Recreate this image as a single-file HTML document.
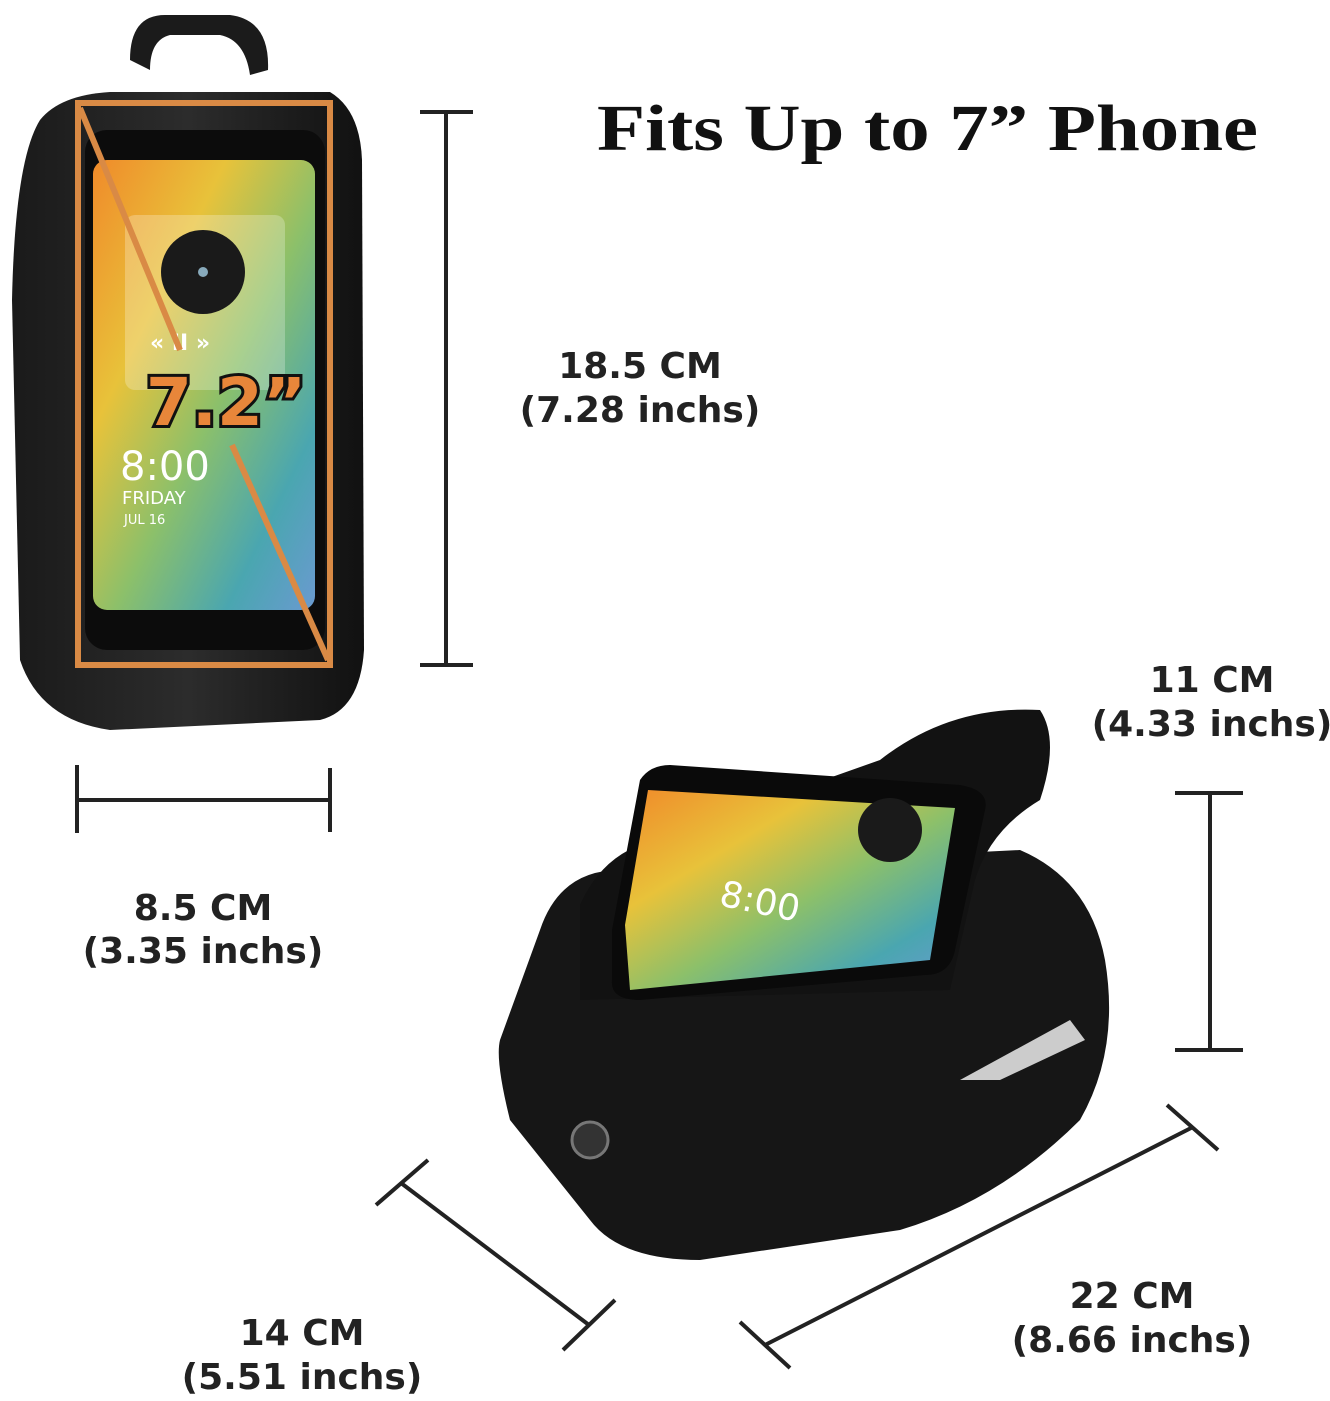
<!DOCTYPE html>
<html><head><meta charset="utf-8"><style>
html,body{margin:0;padding:0;background:#fff}
svg{display:block}
text{font-family:"DejaVu Sans","Liberation Sans",sans-serif;font-weight:bold;fill:#222}
</style></head><body>
<svg width="1330" height="1401" viewBox="0 0 1330 1401" xmlns="http://www.w3.org/2000/svg">
<defs>
<linearGradient id="scr" x1="0" y1="0" x2="1" y2="1">
<stop offset="0" stop-color="#f08a2a"/><stop offset="0.3" stop-color="#e8c23a"/>
<stop offset="0.55" stop-color="#8cc06a"/><stop offset="0.8" stop-color="#4aa6b0"/><stop offset="1" stop-color="#6a9ad0"/>
</linearGradient>
<linearGradient id="bag" x1="0" y1="0" x2="1" y2="0">
<stop offset="0" stop-color="#1a1a1a"/><stop offset="0.5" stop-color="#2c2c2c"/><stop offset="1" stop-color="#111"/>
</linearGradient>
</defs>
<path d="M130 60 Q130 15 165 15 L230 15 Q270 20 268 70 L250 75 Q245 40 220 35 L170 35 Q150 40 150 70 Z" fill="#1b1b1b"/>
<path d="M40 120 Q60 95 110 92 L330 92 Q360 110 362 160 L364 650 Q360 710 320 720 L110 730 Q40 720 20 660 L12 300 Q15 160 40 120 Z" fill="url(#bag)"/>
<rect x="85" y="130" width="240" height="520" rx="22" fill="#0c0c0c"/>
<rect x="93" y="160" width="222" height="450" rx="14" fill="url(#scr)"/>
<rect x="125" y="215" width="160" height="175" rx="10" fill="#ffffff" opacity="0.25"/>
<circle cx="203" cy="272" r="42" fill="#1a1a1a"/><circle cx="203" cy="272" r="5" fill="#8ab"/>
<text x="150" y="350" font-size="22" style="fill:#fff">«  II  »</text>
<text x="120" y="480" font-size="40" style="fill:#fff;font-weight:normal">8:00</text>
<text x="122" y="504" font-size="18" style="fill:#fff;font-weight:normal">FRIDAY</text>
<text x="124" y="524" font-size="13" style="fill:#fff;font-weight:normal">JUL 16</text>
<rect x="78" y="103" width="252" height="562" fill="none" stroke="#d98a45" stroke-width="6"/>
<line x1="80" y1="108" x2="180" y2="350" stroke="#d98a45" stroke-width="6"/>
<line x1="232" y1="445" x2="328" y2="660" stroke="#d98a45" stroke-width="6"/>
<text x="146" y="425" font-size="66" style="fill:#e8863a;stroke:#111;stroke-width:6;paint-order:stroke">7.2”</text>
<g stroke="#222" stroke-width="4" fill="none">
<line x1="446" y1="112" x2="446" y2="665"/><line x1="420" y1="112" x2="473" y2="112"/><line x1="420" y1="665" x2="473" y2="665"/>
<line x1="77" y1="800" x2="330" y2="800"/><line x1="77" y1="765" x2="77" y2="833"/><line x1="330" y1="768" x2="330" y2="832"/>
<line x1="1210" y1="793" x2="1210" y2="1050"/><line x1="1175" y1="793" x2="1243" y2="793"/><line x1="1175" y1="1050" x2="1243" y2="1050"/>
<line x1="401" y1="1183" x2="589" y2="1325"/><line x1="376" y1="1205" x2="428" y2="1160"/><line x1="563" y1="1350" x2="615" y2="1300"/>
<line x1="765" y1="1345" x2="1193" y2="1127"/><line x1="740" y1="1322" x2="790" y2="1368"/><line x1="1167" y1="1105" x2="1218" y2="1150"/>
</g>
<text x="597" y="150" font-size="66" textLength="661" lengthAdjust="spacingAndGlyphs" style="font-family:'Liberation Serif',serif;fill:#111">Fits Up to 7” Phone</text>
<g font-size="36" text-anchor="middle">
<text x="640" y="378">18.5 CM</text><text x="640" y="422">(7.28 inchs)</text>
<text x="203" y="920">8.5 CM</text><text x="203" y="963">(3.35 inchs)</text>
<text x="1212" y="692">11 CM</text><text x="1212" y="736">(4.33 inchs)</text>
<text x="302" y="1345">14 CM</text><text x="302" y="1389">(5.51 inchs)</text>
<text x="1132" y="1308">22 CM</text><text x="1132" y="1352">(8.66 inchs)</text>
</g>
<path d="M540 930 Q560 870 620 870 L1020 850 Q1090 880 1105 960 Q1120 1050 1080 1120 Q1000 1200 900 1230 L700 1260 Q620 1260 590 1220 L510 1120 Q495 1060 500 1040 Z" fill="#161616"/>
<path d="M580 905 Q600 860 640 845 L880 760 Q950 705 1040 710 Q1060 740 1040 800 Q990 830 975 880 L950 990 L580 1000 Z" fill="#121212"/>
<path d="M612 930 L640 780 Q650 765 670 765 L960 785 Q990 790 985 810 L955 950 Q950 975 925 975 L640 1000 Q610 1000 612 980 Z" fill="#0a0a0a"/>
<path d="M625 925 L648 790 L955 808 L930 960 L630 990 Z" fill="url(#scr)"/>
<circle cx="890" cy="830" r="32" fill="#1a1a1a"/>
<text x="718" y="905" font-size="36" transform="rotate(12 718 905)" style="fill:#fff;font-weight:normal">8:00</text>
<path d="M960 1080 L1070 1020 L1085 1040 L1000 1080 Z" fill="#ccc"/>
<circle cx="590" cy="1140" r="18" fill="#333" stroke="#777" stroke-width="3"/>
</svg>
</body></html>
